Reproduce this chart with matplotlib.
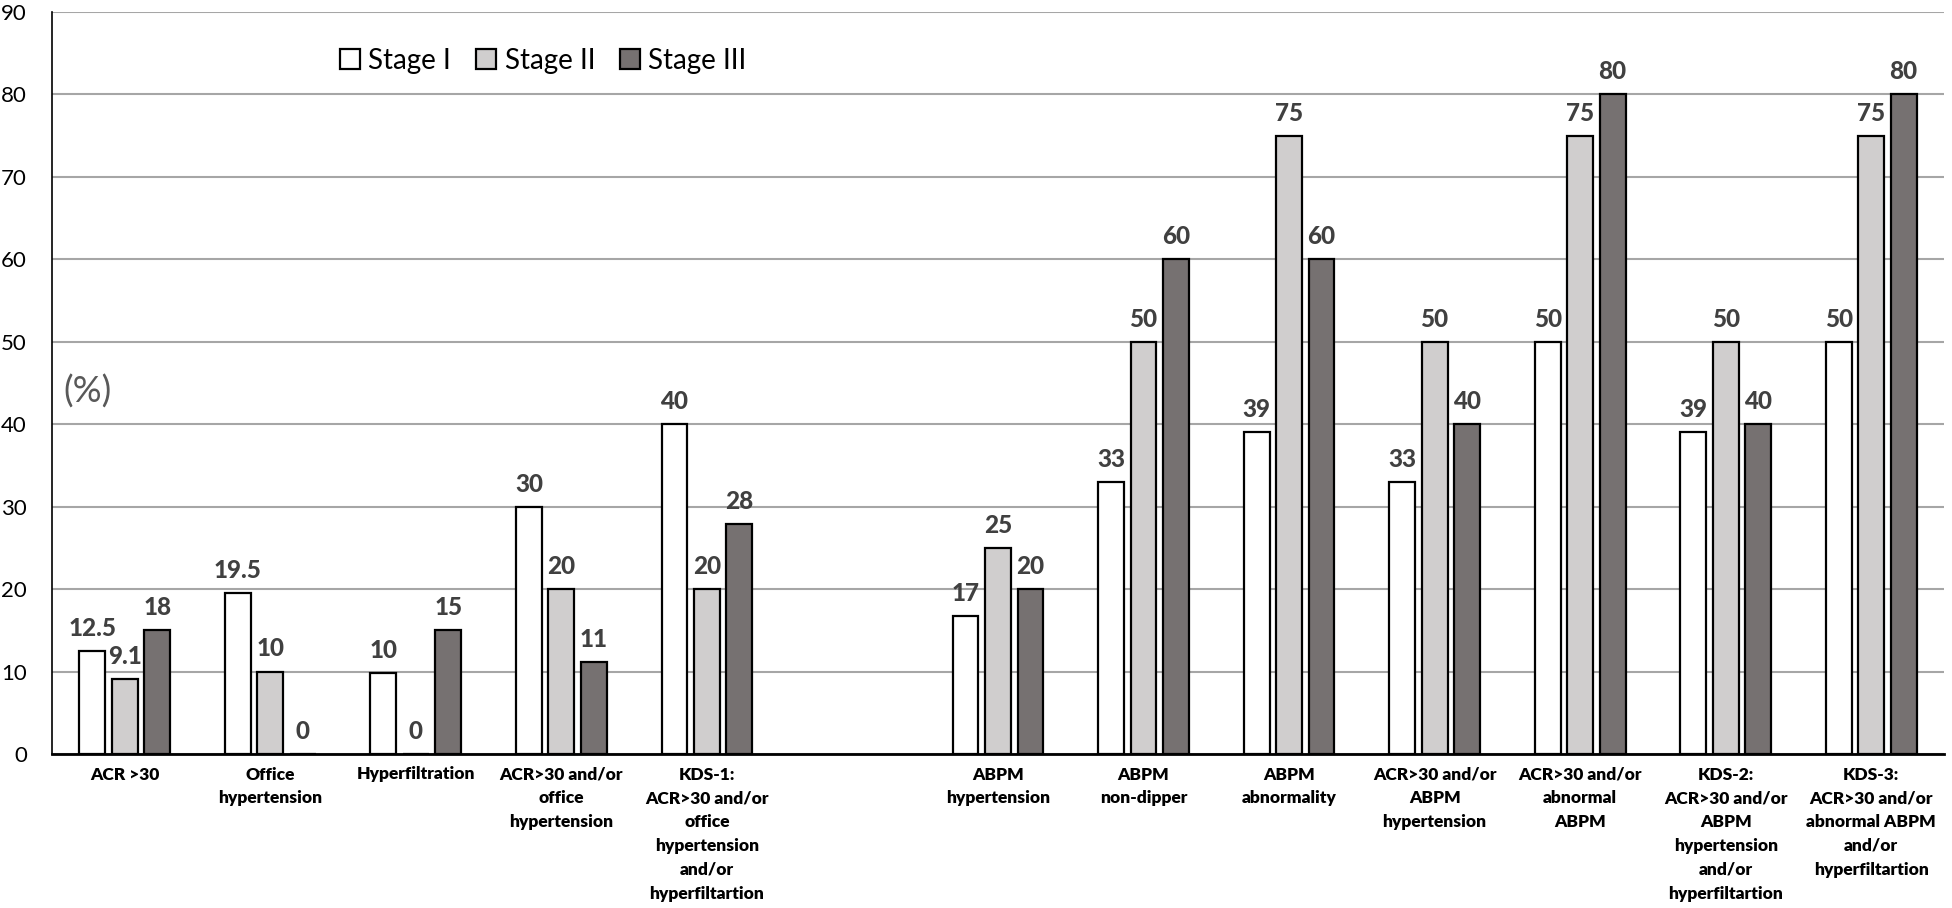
import matplotlib.pyplot as plt
import numpy as np

# Lato is the closest installed match to the office font
plt.rcParams['font.family'] = ['Lato', 'DejaVu Sans']

# categories (index 5 is the empty gap between the two groups)
categories = [
    "ACR >30",
    "Office\nhypertension",
    "Hyperfiltration",
    "ACR>30 and/or\noffice\nhypertension",
    "KDS-1:\nACR>30 and/or\noffice\nhypertension\nand/or\nhyperfiltartion",
    "",
    "ABPM\nhypertension",
    "ABPM\nnon-dipper",
    "ABPM\nabnormality",
    "ACR>30 and/or\nABPM\nhypertension",
    "ACR>30 and/or\nabnormal\nABPM",
    "KDS-2:\nACR>30 and/or\nABPM\nhypertension\nand/or\nhyperfiltartion",
    "KDS-3:\nACR>30 and/or\nabnormal ABPM\nand/or\nhyperfiltartion",
]

# bar heights as drawn
stage1 = [12.5, 19.5, 9.8, 30, 40, np.nan, 16.7, 33, 39, 33, 50, 39, 50]
stage2 = [9.1, 10, 0, 20, 20, np.nan, 25, 50, 75, 50, 75, 50, 75]
stage3 = [15, 0, 15, 11.1, 27.9, np.nan, 20, 60, 60, 40, 80, 40, 80]

# value labels as printed above the bars
labels1 = ["12.5", "19.5", "10", "30", "40", "", "17", "33", "39", "33", "50", "39", "50"]
labels2 = ["9.1", "10", "0", "20", "20", "", "25", "50", "75", "50", "75", "50", "75"]
labels3 = ["18", "0", "15", "11", "28", "", "20", "60", "60", "40", "80", "40", "80"]

series_names = ["Stage I", "Stage II", "Stage III"]
colors = ["#FFFFFF", "#D0CECE", "#767171"]

fig = plt.figure(figsize=(19.52, 9.08), dpi=100)
ax = fig.add_axes([52 / 1952, 1 - 754 / 908, 1892 / 1952, 742 / 908])

x = np.arange(len(categories))
width = 0.178
step = 0.223

for i, (vals, labs) in enumerate(zip([stage1, stage2, stage3], [labels1, labels2, labels3])):
    pos = x + (i - 1) * step
    ax.bar(pos, vals, width, color=colors[i], edgecolor="black", linewidth=1.6,
           label=series_names[i], zorder=3)
    for p, v, t in zip(pos, vals, labs):
        if t == "":
            continue
        ax.annotate(t, (p, v), xytext=(0, 8), textcoords="offset points",
                    ha="center", va="bottom", fontsize=17.5, fontweight=900,
                    color="#404040")

ax.set_xlim(-0.5, len(categories) - 0.5)
ax.set_ylim(0, 90)
ax.set_yticks(np.arange(0, 91, 10))
ax.tick_params(axis="y", length=0, labelsize=16, pad=18)
ax.tick_params(axis="x", length=0, pad=9)
ax.set_xticks(x)
ax.set_xticklabels(categories, fontsize=12.5, fontweight=800, linespacing=1.6)

ax.grid(axis="y", color="#A6A6A6", linewidth=1.5, zorder=0)
for s in ["top", "right"]:
    ax.spines[s].set_visible(False)
ax.spines["left"].set_linewidth(1.2)
ax.spines["bottom"].set_linewidth(2)
ax.spines["bottom"].set_zorder(4)

ax.text(0.006, 0.488, "(%)", transform=ax.transAxes, fontsize=26, color="#595959",
        ha="left", va="center")

ax.legend(loc="center left", bbox_to_anchor=(0.152, 0.934), ncol=3, frameon=False,
          fontsize=20, handlelength=0.72, handleheight=0.72, handletextpad=0.32,
          columnspacing=0.88, borderaxespad=0, borderpad=0)

plt.savefig("out.png", dpi=100)
